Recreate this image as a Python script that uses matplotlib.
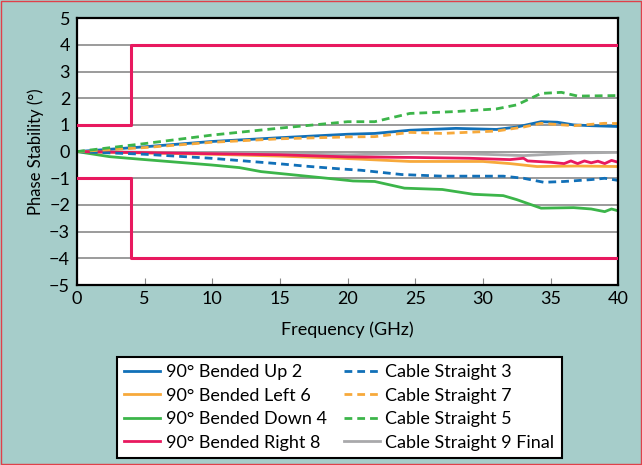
import matplotlib
matplotlib.use("Agg")
import matplotlib.pyplot as plt
from matplotlib.patches import Rectangle

plt.rcParams['font.family'] = ['Lato', 'DejaVu Sans']

# ---- data ----
lim_f = [0, 4, 4, 40]
lim_hi = [1, 1, 4, 4]
lim_lo = [-1, -1, -4, -4]

up2_f = [0, 5, 10, 15, 20, 22, 24.6, 28, 31, 32.5, 34.3, 35.5, 36.7, 38, 40]
up2_v = [0, 0.18, 0.38, 0.52, 0.65, 0.68, 0.8, 0.87, 0.83, 0.92, 1.12, 1.1, 1.0, 0.97, 0.94]

left6_f = [0, 5, 10, 15, 19.5, 24.6, 30, 32, 34, 37, 40]
left6_v = [0, -0.05, -0.1, -0.17, -0.25, -0.37, -0.37, -0.45, -0.56, -0.54, -0.56]

down4_f = [0, 2.4, 5, 9.9, 12, 13.6, 18.5, 20.4, 22, 24.2, 27, 29.3, 31.5, 32.5, 34.3, 36.7, 38, 39, 39.5, 40]
down4_v = [0, -0.19, -0.3, -0.5, -0.6, -0.75, -1.0, -1.1, -1.12, -1.37, -1.42, -1.6, -1.65, -1.8, -2.12, -2.1, -2.15, -2.25, -2.15, -2.22]

right8_f = [0, 10, 15, 20, 25, 29, 32, 33, 33.3, 35, 36, 36.5, 37, 37.5, 38, 38.5, 39, 39.5, 40]
right8_v = [0, -0.08, -0.12, -0.2, -0.22, -0.25, -0.3, -0.25, -0.35, -0.4, -0.45, -0.35, -0.45, -0.35, -0.42, -0.36, -0.45, -0.33, -0.4]

s3_f = [0, 5, 9.9, 14.8, 17, 19.5, 21, 24, 27, 31.5, 33, 34.5, 36, 38, 39, 40]
s3_v = [0, -0.1, -0.25, -0.45, -0.55, -0.65, -0.7, -0.86, -0.92, -0.92, -1.0, -1.15, -1.12, -1.05, -1.0, -1.08]

s7_f = [0, 5, 10, 15, 20, 22, 24.6, 27, 31, 33, 34.3, 36.7, 39, 40]
s7_v = [0, 0.15, 0.35, 0.48, 0.55, 0.56, 0.72, 0.68, 0.77, 0.92, 1.06, 0.97, 1.06, 1.05]

s5_f = [0, 5, 10, 15, 20, 22, 24.6, 28, 31, 32.5, 34.3, 35.8, 37, 40]
s5_v = [0, 0.3, 0.62, 0.88, 1.12, 1.12, 1.43, 1.5, 1.6, 1.75, 2.18, 2.22, 2.08, 2.1]

s9_f = [0, 10, 20, 25, 28, 30, 33, 35, 37, 40]
s9_v = [0, -0.05, -0.12, -0.06, -0.08, -0.1, -0.15, -0.1, -0.05, -0.03]

x_ticks = [0, 5, 10, 15, 20, 25, 30, 35, 40]
y_ticks = [-5, -4, -3, -2, -1, 0, 1, 2, 3, 4, 5]

# ---- styles ----
BLUE = '#1170b8'
ORANGE = '#f7a93b'
GREEN = '#3cb54a'
RED = '#e8195f'
GRAY = '#a9a9ab'
BG = '#a6cdca'

fig = plt.figure(figsize=(6.42, 4.65), dpi=100)
fig.patch.set_facecolor(BG)
fig.patches.append(Rectangle((0.002, 0.002), 0.996, 0.995, transform=fig.transFigure,
                             fill=False, edgecolor='#e0404a', linewidth=1.0))

ax = fig.add_axes([0.12, 0.387, 0.843, 0.574])
ax.set_facecolor('white')

lw = 2.0
dsh = (2.8, 1.8)

ax.plot(lim_f, lim_hi, color=RED, lw=2.2, zorder=3)
ax.plot(lim_f, lim_lo, color=RED, lw=2.2, zorder=3)

h = []
h += ax.plot(up2_f, up2_v, color=BLUE, lw=lw, label='90° Bended Up 2')
h += ax.plot(left6_f, left6_v, color=ORANGE, lw=lw, label='90° Bended Left 6')
h += ax.plot(down4_f, down4_v, color=GREEN, lw=lw, label='90° Bended Down 4')
h += ax.plot(right8_f, right8_v, color=RED, lw=lw, label='90° Bended Right 8')
h += ax.plot(s3_f, s3_v, color=BLUE, lw=lw, dashes=dsh, label='Cable Straight 3')
h += ax.plot(s7_f, s7_v, color=ORANGE, lw=lw, dashes=dsh, label='Cable Straight 7')
h += ax.plot(s5_f, s5_v, color=GREEN, lw=lw, dashes=dsh, label='Cable Straight 5')
h += ax.plot(s9_f, s9_v, color=GRAY, lw=lw, label='Cable Straight 9 Final')
h[-1].set_zorder(1.5)

ax.set_xlim(0, 40)
ax.set_ylim(-5, 5)
ax.set_xticks(x_ticks)
ax.set_yticks(y_ticks)
ax.set_yticklabels([str(v).replace('-', '\u2212') for v in y_ticks])
ax.grid(axis='y', color='#8a8a8a', lw=1.2, zorder=0)
ax.set_axisbelow(True)
ax.tick_params(axis='x', direction='in', length=5, color='#888888', labelsize=13, pad=4)
ax.tick_params(axis='y', length=0, labelsize=13, pad=5)
for s in ax.spines.values():
    s.set_linewidth(1.6)
    s.set_color('black')

ax.set_xlabel('Frequency (GHz)', fontsize=13, labelpad=11)
ax.set_ylabel('Phase Stability (°)', fontsize=12, labelpad=4)

leg = fig.legend(handles=h, loc='lower left', ncol=2,
                 bbox_to_anchor=(0.182, 0.015, 0.693, 0.226), mode='expand',
                 borderaxespad=0,
                 fontsize=13, frameon=True, fancybox=False, edgecolor='black',
                 framealpha=1.0,
                 handlelength=2.0, handletextpad=0.3, labelspacing=0.42,
                 borderpad=0.4, columnspacing=0.8)
leg.get_frame().set_linewidth(1.5)
leg.get_frame().set_facecolor('white')

fig.savefig('out.png', dpi=100, facecolor=BG)
